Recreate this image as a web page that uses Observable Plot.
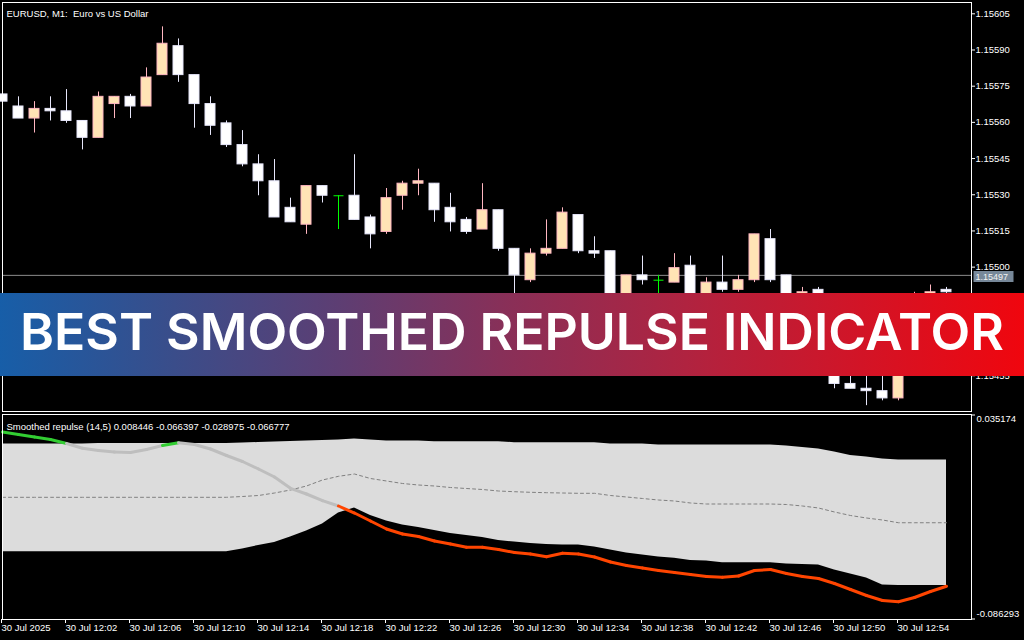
<!DOCTYPE html>
<html><head><meta charset="utf-8">
<script src="https://cdn.jsdelivr.net/npm/d3@7"></script>
<script src="https://cdn.jsdelivr.net/npm/@observablehq/plot@0.6"></script>
<style>
html,body{margin:0;padding:0;background:#000;}
#wrap{position:relative;width:1024px;height:640px;background:#000;overflow:hidden;}
#price,#ind{position:absolute;left:0;width:1024px;}
#price{top:0;}
#ind{top:412px;}
#banner{position:absolute;left:0;top:293px;}
svg text{white-space:pre;}
</style></head><body>
<div id="wrap">
<div id="price"></div>
<div id="ind"></div>
<svg id="banner" width="1024" height="83" xmlns="http://www.w3.org/2000/svg">
<defs><linearGradient id="bg" x1="0" x2="1" y1="0" y2="0">
<stop offset="0" stop-color="#175ea8"/><stop offset="0.17" stop-color="#3a4d8a"/>
<stop offset="0.33" stop-color="#5d3e73"/><stop offset="0.5" stop-color="#8a2f57"/>
<stop offset="0.67" stop-color="#b02340"/><stop offset="0.83" stop-color="#d01528"/>
<stop offset="1" stop-color="#f0060e"/></linearGradient></defs>
<rect x="0" y="0" width="1024" height="83" fill="url(#bg)"/>
<text x="20" y="57" font-family="Inter, 'Noto Sans', sans-serif" font-weight="600" font-size="51" fill="#ffffff" textLength="984" lengthAdjust="spacingAndGlyphs">BEST SMOOTHED REPULSE INDICATOR</text>
</svg>
</div>
<script>
// ---------- data ----------
const priceTitle = "EURUSD, M1:  Euro vs US Dollar";
const indTitle = "Smoothed repulse (14,5) 0.008446 -0.066397 -0.028975 -0.066777";
const bidPrice = 1.15497;
const priceTicks = [1.15605, 1.15590, 1.15575, 1.15560, 1.15545, 1.15530, 1.15515, 1.15500, 1.15455];
const indTop = 0.035174, indBottom = -0.086293;
const tickIdx = [0, 4, 8, 12, 16, 20, 24, 28, 32, 36, 40, 44, 48, 52, 56];
const timeLabels = ["30 Jul 2025", "30 Jul 12:02", "30 Jul 12:06", "30 Jul 12:10", "30 Jul 12:14", "30 Jul 12:18", "30 Jul 12:22", "30 Jul 12:26", "30 Jul 12:30", "30 Jul 12:34", "30 Jul 12:38", "30 Jul 12:42", "30 Jul 12:46", "30 Jul 12:50", "30 Jul 12:54"];

const open  = [1.15572,1.15567,1.15562,1.15566,1.15565,1.15561,1.15554,1.15568,1.15571,1.15567,1.15580,1.15592,1.15580,1.15568,1.15560,1.15551,1.15543,1.15536,1.15525,1.15518,1.15534,1.15530,1.15530,1.15521,1.15515,1.15530,1.15535,1.15535,1.15525,1.15520,1.15516,1.15524,1.15508,1.15495,1.15506,1.15508,1.15522,1.15507,1.15507,1.15485,1.15497,1.15495,1.15494,1.15501,1.15487,1.15494,1.15491,1.15495,1.15512,1.15497,1.15487,1.15491,1.15479,1.15452,1.15450,1.15449,1.15446,1.15470,1.15487,1.15491];
const high  = [1.15573,1.15571,1.15569,1.15571,1.15574,1.15561,1.15573,1.15571,1.15572,1.15583,1.15600,1.15595,1.15580,1.15571,1.15561,1.15557,1.15547,1.15545,1.15529,1.15534,1.15534,1.15530,1.15547,1.15522,1.15533,1.15536,1.15541,1.15535,1.15531,1.15521,1.15535,1.15524,1.15508,1.15508,1.15520,1.15525,1.15522,1.15513,1.15507,1.15497,1.15505,1.15497,1.15506,1.15505,1.15496,1.15505,1.15497,1.15514,1.15516,1.15497,1.15492,1.15492,1.15481,1.15456,1.15458,1.15457,1.15472,1.15490,1.15493,1.15492];
const low   = [1.15568,1.15562,1.15556,1.15561,1.15560,1.15549,1.15554,1.15562,1.15562,1.15567,1.15580,1.15577,1.15558,1.15555,1.15550,1.15542,1.15530,1.15521,1.15519,1.15514,1.15527,1.15516,1.15520,1.15508,1.15514,1.15524,1.15530,1.15519,1.15515,1.15514,1.15516,1.15507,1.15487,1.15494,1.15505,1.15508,1.15506,1.15504,1.15481,1.15483,1.15493,1.15487,1.15494,1.15483,1.15485,1.15490,1.15490,1.15494,1.15494,1.15485,1.15486,1.15477,1.15450,1.15450,1.15443,1.15445,1.15445,1.15468,1.15486,1.15489];
const close = [1.15569,1.15562,1.15566,1.15565,1.15561,1.15554,1.15571,1.15571,1.15567,1.15579,1.15593,1.15580,1.15568,1.15559,1.15551,1.15543,1.15536,1.15521,1.15519,1.15534,1.15530,1.15530,1.15520,1.15514,1.15529,1.15535,1.15536,1.15524,1.15519,1.15515,1.15524,1.15508,1.15497,1.15506,1.15508,1.15523,1.15507,1.15506,1.15483,1.15497,1.15495,1.15495,1.15500,1.15485,1.15494,1.15491,1.15495,1.15514,1.15495,1.15487,1.15490,1.15479,1.15452,1.15450,1.15449,1.15446,1.15470,1.15488,1.15490,1.15490];

const upperBand = [0.01791,0.01791,0.01791,0.01791,0.01791,0.01791,0.01820,0.01820,0.01820,0.01820,0.01820,0.01820,0.01820,0.01820,0.01820,0.01850,0.01880,0.01910,0.01940,0.01969,0.01999,0.02029,0.02088,0.02029,0.01969,0.01969,0.01969,0.01928,0.01928,0.01928,0.01928,0.01928,0.01868,0.01868,0.01868,0.01868,0.01868,0.01868,0.01791,0.01791,0.01791,0.01731,0.01731,0.01731,0.01731,0.01731,0.01731,0.01731,0.01731,0.01672,0.01582,0.01493,0.01314,0.01106,0.01017,0.00898,0.008446,0.008446,0.008446,0.008446];
const lowerBand = [-0.04622,-0.04622,-0.04622,-0.04622,-0.04622,-0.04622,-0.04622,-0.04622,-0.04622,-0.04622,-0.04622,-0.04622,-0.04622,-0.04622,-0.04622,-0.04461,-0.04253,-0.04074,-0.03747,-0.03390,-0.02973,-0.02318,-0.02020,-0.02467,-0.02794,-0.03032,-0.03181,-0.03360,-0.03538,-0.03658,-0.03777,-0.03955,-0.04045,-0.04134,-0.04193,-0.04223,-0.04223,-0.04342,-0.04521,-0.04700,-0.04819,-0.04938,-0.05015,-0.05146,-0.05176,-0.05277,-0.05277,-0.05277,-0.05277,-0.05355,-0.05384,-0.05414,-0.05712,-0.05950,-0.06188,-0.06605,-0.066397,-0.066397,-0.066397,-0.066397];
const midLine = [-0.01383,-0.01383,-0.01383,-0.01383,-0.01383,-0.01383,-0.01383,-0.01383,-0.01383,-0.01383,-0.01383,-0.01383,-0.01383,-0.01383,-0.01383,-0.01335,-0.01276,-0.01127,-0.00948,-0.00710,-0.00353,-0.00133,0.00004,-0.00264,-0.00412,-0.00561,-0.00651,-0.00710,-0.00800,-0.00859,-0.00919,-0.01008,-0.01050,-0.01085,-0.01109,-0.01127,-0.01145,-0.01145,-0.01276,-0.01365,-0.01454,-0.01544,-0.01603,-0.01722,-0.01782,-0.01782,-0.01782,-0.01782,-0.01782,-0.01812,-0.01901,-0.02020,-0.02258,-0.02467,-0.02616,-0.02735,-0.028975,-0.028975,-0.028975,-0.028975];
const repulse = [0.02505,0.02356,0.02208,0.02059,0.01820,0.01535,0.01404,0.01314,0.01285,0.01463,0.01701,0.01868,0.01761,0.01493,0.01106,0.00749,0.00302,-0.00174,-0.00847,-0.01187,-0.01585,-0.01901,-0.02318,-0.02794,-0.03271,-0.03568,-0.03717,-0.03985,-0.04164,-0.04360,-0.04360,-0.04491,-0.04670,-0.04759,-0.04920,-0.04717,-0.04759,-0.04938,-0.05235,-0.05444,-0.05593,-0.05742,-0.05861,-0.05980,-0.06099,-0.06146,-0.06069,-0.05742,-0.05682,-0.05920,-0.06099,-0.06218,-0.06516,-0.06873,-0.07230,-0.07528,-0.07599,-0.07349,-0.06992,-0.066777];

// ---------- derived tables ----------
const idx = d3.range(open.length);
const candles = idx.map(i => ({i, o: open[i], h: high[i], l: low[i], c: close[i],
  kind: close[i] > open[i] ? "bull" : close[i] < open[i] ? "bear" : "doji"}));
const wickColor = {bull: "#ffb6c1", bear: "#e6e6fa", doji: "#00ff00"};
const bodyFill = {bull: "#ffe4b5", bear: "#ffffff"};
const bodyStroke = {bull: "#ffb6c1", bear: "#e6e6fa"};
const HALF = 0.3125;

const ind = idx.map(i => ({i, up: upperBand[i], lo: lowerBand[i], mid: midLine[i], r: repulse[i]}));
const stateColor = d => d.r > d.up ? "#32cd32" : d.r < d.lo ? "#ff4500" : "#bebebe";
const segs = ind.slice(1).map((d, k) => ({x1: ind[k].i, y1: ind[k].r, x2: d.i, y2: d.r, color: stateColor(d)}));

const font = "'Liberation Sans', Arial, sans-serif";

function bidLabel(index, scales, values, dimensions) {
  const y = Math.round(scales.y(bidPrice));
  const x = dimensions.width - dimensions.marginRight;
  const g = d3.create("svg:g");
  g.append("rect").attr("x", x + 2.5).attr("y", y - 4).attr("width", 40).attr("height", 11).attr("fill", "#778899");
  g.append("text").attr("x", x + 4.5).attr("y", y + 1.8).attr("dy", "0.35em").attr("text-anchor", "start")
    .attr("fill", "#f2f2f2").attr("font-family", font).attr("font-size", "9px").text(bidPrice.toFixed(5));
  return g.node();
}

const pricePlot = Plot.plot({
  width: 1024, height: 412,
  marginTop: 2, marginLeft: 2, marginRight: 53, marginBottom: 1,
  style: {background: "#000", color: "#fff", fontFamily: font, fontSize: "9.5px"},
  x: {domain: [0, 60], range: [2, 962], axis: null},
  y: {domain: [1.15605, 1.15455], range: [14.3, 376.2], axis: null},
  marks: [
    Plot.ruleY([bidPrice], {y: d => d, stroke: "#8c8c8c"}),
    Plot.ruleX(candles, {x: "i", y1: "l", y2: "h", stroke: d => wickColor[d.kind]}),
    Plot.rect(candles.filter(d => d.kind !== "doji"), {
      x1: d => d.i - HALF, x2: d => d.i + HALF, y1: "o", y2: "c",
      fill: d => bodyFill[d.kind], stroke: d => bodyStroke[d.kind]}),
    Plot.link(candles.filter(d => d.kind === "doji"), {
      x1: d => d.i - HALF, x2: d => d.i + HALF, y1: "o", y2: "o", stroke: "#00ff00"}),
    Plot.frame({stroke: "#fff"}),
    Plot.axisY({anchor: "right", ticks: priceTicks, tickFormat: d => d.toFixed(5), tickSize: 3, tickPadding: 1, dy: -1}),
    Plot.text([priceTitle], {text: d => d, frameAnchor: "top-left", textAnchor: "start", dx: 4, dy: 8, fill: "#fff"}),
    bidLabel
  ]
});
document.getElementById("price").append(pricePlot);

const indPlot = Plot.plot({
  width: 1024, height: 228,
  marginTop: 2, marginLeft: 2, marginRight: 53, marginBottom: 21,
  style: {background: "transparent", color: "#fff", fontFamily: font, fontSize: "9.5px"},
  x: {domain: [0, 60], range: [2, 962], axis: null},
  y: {domain: [indTop, indBottom], range: [2.5, 206.5], axis: null},
  marks: [
    Plot.areaY(ind, {x: "i", y1: "lo", y2: "up", fill: "#dcdcdc"}),
    Plot.line(ind, {x: "i", y: "mid", stroke: "#808080", strokeWidth: 1, strokeDasharray: "3,3"}),
    Plot.link(segs, {x1: "x1", y1: "y1", x2: "x2", y2: "y2", stroke: "color", strokeWidth: 3, strokeLinecap: "round"}),
    Plot.frame({stroke: "#fff"}),
    Plot.axisY({anchor: "right", ticks: [indTop, indBottom], tickFormat: () => "", tickSize: 3}),
    Plot.axisY({anchor: "right", ticks: [indTop], tickFormat: d => d.toFixed(6), tickSize: 0, tickPadding: 5, dy: 4}),
    Plot.axisY({anchor: "right", ticks: [indBottom], tickFormat: d => d.toFixed(6), tickSize: 0, tickPadding: 5, dy: -5}),
    Plot.axisX({anchor: "bottom", ticks: tickIdx, tickFormat: d => timeLabels[tickIdx.indexOf(d)], tickSize: 4, tickPadding: 1, textAnchor: "start", dx: -1}),
    Plot.text([indTitle], {text: d => d, frameAnchor: "top-left", textAnchor: "start", dx: 4, dy: 9, fill: "#fff"})
  ]
});
document.getElementById("ind").append(indPlot);
</script>
</body></html>
